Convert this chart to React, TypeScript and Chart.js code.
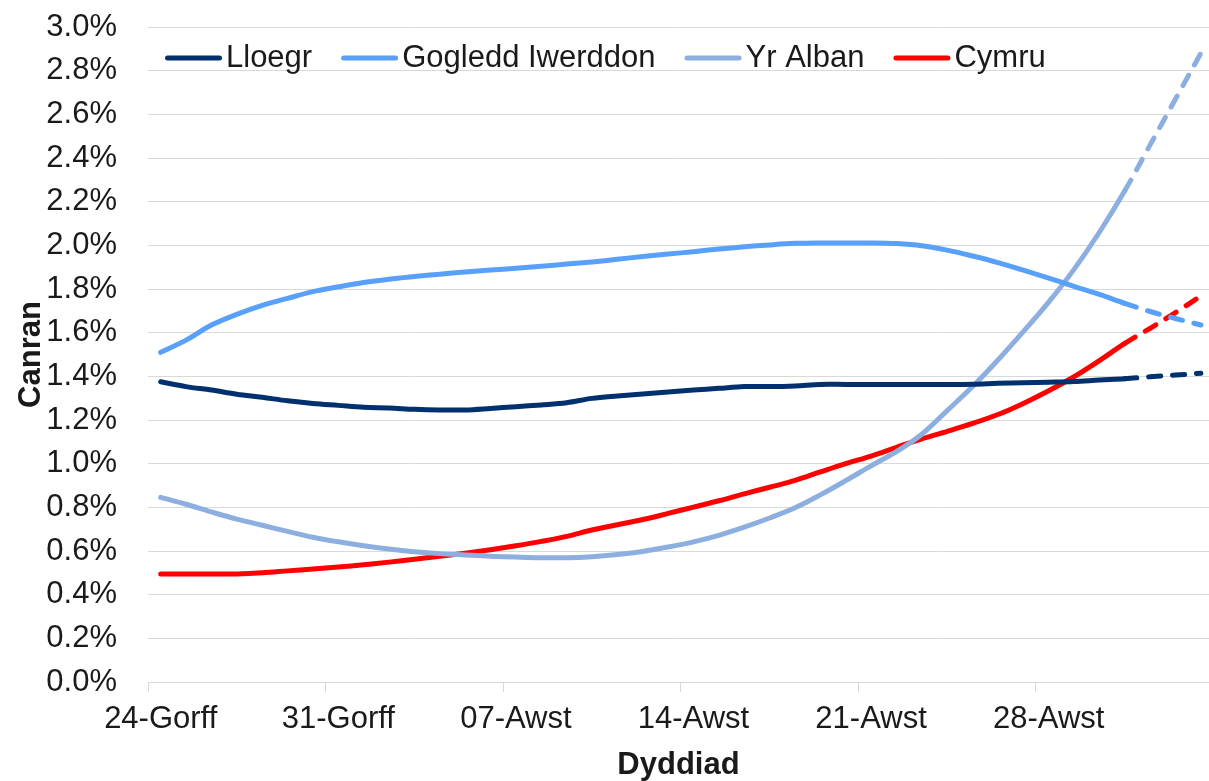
import React, { useEffect, useRef } from "react";
import { Chart, registerables } from "chart.js";

Chart.register(...registerables);

// Daily dates (24 July – 3 September)
const dates = [
  "24-Gorff", "25-Gorff", "26-Gorff", "27-Gorff", "28-Gorff", "29-Gorff", "30-Gorff",
  "31-Gorff", "01-Awst", "02-Awst", "03-Awst", "04-Awst", "05-Awst", "06-Awst",
  "07-Awst", "08-Awst", "09-Awst", "10-Awst", "11-Awst", "12-Awst", "13-Awst",
  "14-Awst", "15-Awst", "16-Awst", "17-Awst", "18-Awst", "19-Awst", "20-Awst",
  "21-Awst", "22-Awst", "23-Awst", "24-Awst", "25-Awst", "26-Awst", "27-Awst",
  "28-Awst", "29-Awst", "30-Awst", "31-Awst", "01-Medi", "02-Medi", "03-Medi",
];

const tickLabels = ["24-Gorff", "31-Gorff", "07-Awst", "14-Awst", "21-Awst", "28-Awst"];
const yTickLabels = ["0.0%", "0.2%", "0.4%", "0.6%", "0.8%", "1.0%", "1.2%", "1.4%", "1.6%", "1.8%", "2.0%", "2.2%", "2.4%", "2.6%", "2.8%", "3.0%"];

const seriesNames = ["Lloegr", "Gogledd Iwerddon", "Yr Alban", "Cymru"];

const lloegr = [
  1.375, 1.353, 1.337, 1.318, 1.304, 1.288, 1.276, 1.267, 1.258, 1.255, 1.249, 1.246, 1.246, 1.253,
  1.261, 1.269, 1.279, 1.299, 1.31, 1.319, 1.328, 1.337, 1.345, 1.353, 1.353, 1.356, 1.363, 1.363,
  1.363, 1.363, 1.363, 1.363, 1.364, 1.368, 1.371, 1.373, 1.376, 1.383, 1.389, 1.398, 1.406, 1.414,
];

const gogleddIwerddon = [
  1.51, 1.566, 1.635, 1.684, 1.725, 1.757, 1.788, 1.81, 1.83, 1.845, 1.857, 1.868, 1.878, 1.887,
  1.895, 1.904, 1.914, 1.924, 1.936, 1.949, 1.96, 1.971, 1.983, 1.993, 2.002, 2.009, 2.011, 2.011,
  2.011, 2.008, 1.998, 1.978, 1.951, 1.921, 1.886, 1.85, 1.812, 1.775, 1.734, 1.697, 1.665, 1.635,
];

const yrAlban = [
  0.846, 0.814, 0.779, 0.746, 0.718, 0.69, 0.663, 0.642, 0.624, 0.609, 0.597, 0.588, 0.582, 0.576,
  0.572, 0.569, 0.569, 0.574, 0.584, 0.598, 0.618, 0.642, 0.672, 0.709, 0.751, 0.798, 0.857, 0.922,
  0.99, 1.055, 1.135, 1.243, 1.353, 1.475, 1.605, 1.74, 1.89, 2.06, 2.25, 2.46, 2.67, 2.88,
];

const cymru = [
  0.495, 0.495, 0.495, 0.495, 0.5, 0.509, 0.518, 0.527, 0.537, 0.549, 0.562, 0.576, 0.59, 0.606,
  0.624, 0.644, 0.667, 0.696, 0.72, 0.744, 0.772, 0.801, 0.83, 0.862, 0.892, 0.923, 0.962, 1.0,
  1.035, 1.075, 1.114, 1.148, 1.184, 1.225, 1.276, 1.334, 1.398, 1.472, 1.551, 1.62, 1.692, 1.768,
];

const seriesValues = [lloegr, gogleddIwerddon, yrAlban, cymru];
const seriesColors = ["#00306E", "#58A0FA", "#8DAFE0", "#FF0000"];

// Index from which values are projections (dashed)
const projectionStart = 38;

const FONT = "'Liberation Sans', Arial, Helvetica, sans-serif";
const TEXT = "#1a1a1a";

export default function App() {
  const canvasRef = useRef<HTMLCanvasElement | null>(null);

  useEffect(() => {
    document.body.style.margin = "0";
    const canvas = canvasRef.current;
    if (!canvas) return;

    const inlineLegend = {
      id: "inlineLegend",
      afterDraw(chart: any) {
        const ctx = chart.ctx;
        const ca = chart.chartArea;
        ctx.save();
        ctx.font = `31px ${FONT}`;
        ctx.textBaseline = "alphabetic";
        ctx.textAlign = "left";
        let x = ca.left + 17;
        const lineY = ca.top + 31;
        const textY = ca.top + 40;
        chart.data.datasets.forEach((ds: any) => {
          ctx.strokeStyle = ds.borderColor;
          ctx.lineWidth = 5;
          ctx.lineCap = "round";
          ctx.setLineDash([]);
          ctx.beginPath();
          ctx.moveTo(x + 2.5, lineY);
          ctx.lineTo(x + 57 - 2.5, lineY);
          ctx.stroke();
          ctx.fillStyle = TEXT;
          ctx.fillText(ds.label, x + 61, textY);
          x += 61 + ctx.measureText(ds.label).width + 29;
        });
        ctx.restore();
      },
    };

    const chart = new Chart(canvas, {
      type: "line",
      data: {
        datasets: seriesNames.map((name, k) => ({
          label: name,
          data: seriesValues[k].map((v, i) => ({ x: i, y: v })),
          borderColor: seriesColors[k],
          backgroundColor: seriesColors[k],
          borderWidth: 5,
          pointRadius: 0,
          pointHoverRadius: 0,
          tension: 0.35,
          borderCapStyle: "round",
          borderJoinStyle: "round",
          fill: false,
          segment: {
            borderDash: (c: any) => (c.p0DataIndex >= projectionStart ? [12, 12] : undefined),
          },
        })),
      },
      options: {
        animation: false,
        responsive: false,
        maintainAspectRatio: false,
        layout: { padding: { top: 27, left: 0, right: 0, bottom: 0 } },
        plugins: {
          legend: { display: false },
          tooltip: { enabled: false },
          title: { display: false },
        },
        scales: {
          x: {
            type: "linear",
            min: -0.5,
            max: 41.32,
            afterBuildTicks: (scale: any) => {
              scale.ticks = tickLabels.map((lab) => ({ value: dates.indexOf(lab) - 0.5 }));
            },
            afterFit: (scale: any) => {
              scale.height = 99;
            },
            ticks: {
              autoSkip: false,
              maxRotation: 0,
              minRotation: 0,
              labelOffset: 12.7,
              padding: 9,
              color: TEXT,
              font: { size: 31, family: FONT },
              callback: (_v: any, idx: number) => tickLabels[idx],
            },
            grid: {
              drawOnChartArea: false,
              drawTicks: true,
              tickLength: 10,
              color: "#d9d9d9",
              lineWidth: 1,
            },
            border: { display: true, color: "#d9d9d9", width: 1 },
            title: {
              display: true,
              text: "Dyddiad",
              color: TEXT,
              font: { size: 31, weight: "bold", family: FONT },
              padding: { top: 0, bottom: -3 },
            },
          },
          y: {
            min: 0,
            max: 3,
            afterFit: (scale: any) => {
              scale.width = 148;
            },
            ticks: {
              stepSize: 0.2,
              padding: 0,
              color: TEXT,
              font: { size: 31, family: FONT },
              callback: (_v: any, idx: number) => yTickLabels[idx],
            },
            grid: {
              color: "#d9d9d9",
              lineWidth: 1,
              drawTicks: true,
              tickLength: 31,
              tickColor: "rgba(0,0,0,0)",
            },
            border: { display: false },
            title: {
              display: true,
              text: "Canran",
              color: TEXT,
              font: { size: 31, weight: "bold", family: FONT },
              padding: { top: 13, bottom: 0 },
            },
          },
        },
      },
      plugins: [inlineLegend],
    } as any);

    return () => chart.destroy();
  }, []);

  return (
    <div style={{ width: 1209, height: 781, background: "#fff" }}>
      <canvas ref={canvasRef} width={1209} height={781} style={{ display: "block" }} />
    </div>
  );
}
